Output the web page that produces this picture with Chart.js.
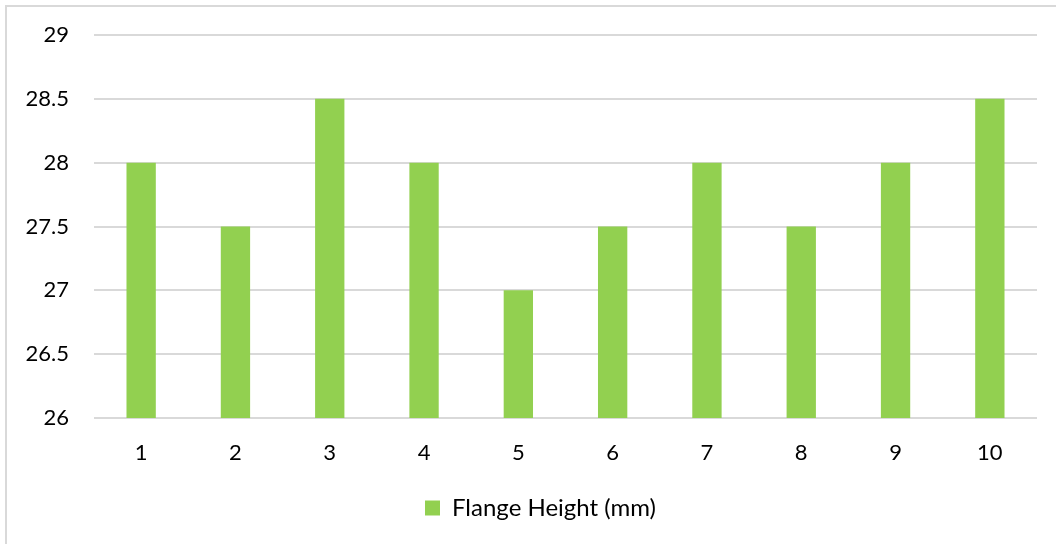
<!DOCTYPE html>
<html>
<head>
<meta charset="utf-8">
<script src="https://cdn.jsdelivr.net/npm/chart.js@4"></script>
<style>
  html, body { margin: 0; padding: 0; background: #fff; overflow: hidden; }
  #wrap { position: relative; width: 1056px; height: 544px; }
  #frame { position: absolute; left: 5px; top: 5px; width: 1100px; height: 600px;
           border: 2px solid #d9d9d9; pointer-events: none; }
  canvas { position: absolute; left: 0; top: 0; }
</style>
</head>
<body>
<div id="wrap">
  <canvas id="c" width="1056" height="544"></canvas>
  <div id="frame"></div>
</div>
<script>
// Flange height measured on ten samples
const categories = ['1', '2', '3', '4', '5', '6', '7', '8', '9', '10'];
const flangeHeight = [28, 27.5, 28.5, 28, 27, 27.5, 28, 27.5, 28, 28.5];
const seriesLabel = 'Flange Height (mm)';
const yMin = 26, yMax = 29, yStep = 0.5;

const FONT = 'Lato, "Liberation Sans", sans-serif';

// The legend sits centred under the whole frame, a little right of the plot centre
const legendShift = {
  id: 'legendShift',
  afterLayout(chart) {
    const lg = chart.legend;
    if (lg) { lg.left += 22; lg.right += 22; }
  }
};

new Chart(document.getElementById('c'), {
  type: 'bar',
  data: {
    labels: categories,
    datasets: [{
      label: seriesLabel,
      data: flangeHeight,
      backgroundColor: '#92d050',
      borderWidth: 0,
      categoryPercentage: 1.0,
      barPercentage: 0.311
    }]
  },
  plugins: [legendShift],
  options: {
    responsive: false,
    animation: false,
    layout: { padding: { left: 0, right: 19, top: 35, bottom: 14 } },
    plugins: {
      tooltip: { enabled: false },
      legend: {
        position: 'bottom',
        labels: {
          boxWidth: 15,
          boxHeight: 15,
          padding: 10,
          color: '#000',
          font: { family: FONT, size: 24 }
        }
      }
    },
    scales: {
      x: {
        grid: { display: false, drawTicks: false },
        border: { display: false },
        ticks: { color: '#000', padding: 22, font: { family: FONT, size: 22 } },
        afterFit: s => { s.height = 68; }
      },
      y: {
        min: yMin,
        max: yMax,
        grid: { color: '#d9d9d9', lineWidth: 2, drawTicks: false },
        border: { display: false },
        ticks: {
          stepSize: yStep,
          color: '#000',
          padding: 25,
          font: { family: FONT, size: 22 },
          callback: v => String(v)
        },
        afterFit: s => { s.width = 94; s.paddingTop = 0; s.paddingBottom = 0; }
      }
    }
  }
});
</script>
</body>
</html>
